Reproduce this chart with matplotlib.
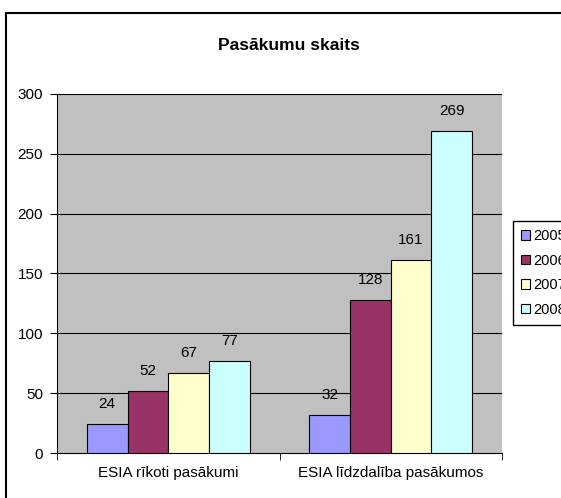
import matplotlib.pyplot as plt
import matplotlib.patches as mpatches
import numpy as np

plt.rcParams['font.family'] = ['Liberation Sans', 'DejaVu Sans']

categories = ['ESIA rīkoti pasākumi', 'ESIA līdzdalība pasākumos']
years = ['2005', '2006', '2007', '2008']
values = {
    '2005': [24, 32],
    '2006': [52, 128],
    '2007': [67, 161],
    '2008': [77, 269],
}
colors = ['#9999FF', '#993366', '#FFFFCC', '#CCFFFF']

W, H = 561, 498
fig = plt.figure(figsize=(W / 100, H / 100), dpi=100)

# outer chart border (right/bottom edges fall outside the image)
fig.patches.append(mpatches.Rectangle((6 / W, -0.1), 1.2, 1 - 13 / H + 0.1,
                                      transform=fig.transFigure, fill=False,
                                      edgecolor='black', linewidth=1.5))

ax = fig.add_axes([57 / W, 45 / H, (502 - 57) / W, (453 - 94) / H])
ax.set_facecolor('#C0C0C0')

x = np.arange(len(categories))
width = 0.183
for i, (yr, col) in enumerate(zip(years, colors)):
    pos = x + (i - 1.5) * width
    ax.bar(pos, values[yr], width, color=col, edgecolor='black',
           linewidth=0.8, label=yr, zorder=3)
    for xp, v in zip(pos, values[yr]):
        ax.text(xp, v + 11, str(v), ha='center', va='bottom', fontsize=11, zorder=4)

ax.set_xlim(-0.5, 1.5)
ax.set_ylim(0, 300)
ax.set_yticks(range(0, 301, 50))
for yv in range(50, 301, 50):
    ax.axhline(yv, color='black', linewidth=0.8, zorder=1)

ax.set_xticks(x)
ax.set_xticklabels(categories, fontsize=11)
ax.tick_params(axis='x', which='major', length=0, pad=9)
ax.set_xticks([-0.5, 0.5, 1.5], minor=True)
ax.tick_params(axis='x', which='minor', length=5, direction='out')
ax.tick_params(axis='y', length=5, direction='out', labelsize=11, pad=5)

for s in ['top', 'right']:
    ax.spines[s].set_visible(False)
ax.spines['left'].set_color('black')
ax.spines['bottom'].set_color('black')

fig.text(289 / W, 1 - 45 / H, 'Pasākumu skaits', ha='center', va='center',
         fontsize=12.5, fontweight='bold')

leg = fig.legend(loc='upper left', bbox_to_anchor=(513 / W, 1 - 221 / H),
                 borderaxespad=0, fontsize=10.5, handlelength=0.6,
                 handleheight=0.6, handletextpad=0.25, labelspacing=0.72,
                 borderpad=0.55, fancybox=False, framealpha=1, edgecolor='black')
leg.get_frame().set_linewidth(1)

fig.savefig('out.png', dpi=100)
